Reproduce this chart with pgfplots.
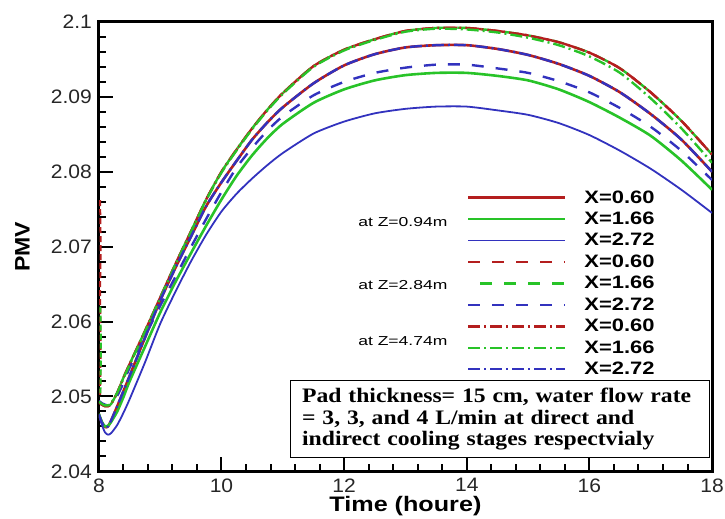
\documentclass[border=0pt]{standalone}
\usepackage{fontspec}
\setmainfont{Liberation Serif}
\setsansfont{Liberation Sans}
\newfontfamily\tickf{Liberation Sans}[FakeStretch=1.08]
\newfontfamily\legf{Liberation Sans}[FakeStretch=1.22]
\newfontfamily\zf{Liberation Sans}[FakeStretch=1.35]
\newfontfamily\labf{Liberation Sans}[FakeStretch=1.2]
\newfontfamily\ylabf{Liberation Sans}[FakeStretch=1.1]
\newfontfamily\boxf{Liberation Serif}[FakeStretch=1.15]
\usepackage{pgfplots}
\usepackage{pgfplotstable}
\pgfplotsset{compat=1.18}
\definecolor{cR}{RGB}{180,30,30}
\definecolor{cG}{RGB}{40,195,40}
\definecolor{cB}{RGB}{50,50,190}

\pgfplotstableread{
x T T2 S DB GS BS
8.00 2.0492 2.0493 2.0476 2.0494 2.0477 2.0476
8.05 2.0489 2.0490 2.0465 2.0491 2.0466 2.0462
8.10 2.0487 2.0488 2.0459 2.0489 2.0460 2.0452
8.15 2.0487 2.0488 2.0460 2.0488 2.0461 2.0449
8.20 2.0490 2.0491 2.0468 2.0490 2.0466 2.0451
8.30 2.0505 2.0505 2.0487 2.0501 2.0480 2.0462
8.40 2.0525 2.0524 2.0507 2.0518 2.0499 2.0478
8.50 2.0543 2.0542 2.0527 2.0538 2.0520 2.0496
8.75 2.0587 2.0586 2.0578 2.0580 2.0566 2.0545
9.00 2.0632 2.0631 2.0628 2.0621 2.0612 2.0597
9.25 2.0677 2.0676 2.0672 2.0660 2.0653 2.0640
9.50 2.0720 2.0719 2.0713 2.0699 2.0691 2.0680
9.75 2.0763 2.0762 2.0754 2.0737 2.0728 2.0716
10.00 2.0800 2.0799 2.0786 2.0773 2.0763 2.0747
10.25 2.0830 2.0829 2.0815 2.0806 2.0795 2.0771
10.50 2.0858 2.0857 2.0843 2.0832 2.0822 2.0791
10.75 2.0883 2.0882 2.0866 2.0855 2.0845 2.0809
11.00 2.0905 2.0904 2.0886 2.0874 2.0864 2.0825
11.50 2.0941 2.0940 2.0918 2.0902 2.0892 2.0851
12.00 2.0963 2.0962 2.0942 2.0920 2.0910 2.0867
12.50 2.0977 2.0976 2.0957 2.0932 2.0922 2.0878
13.00 2.0988 2.0987 2.0966 2.0939 2.0929 2.0884
13.50 2.0992 2.0991 2.0969 2.0943 2.0932 2.0887
14.00 2.0992 2.0990 2.0969 2.0943 2.0932 2.0887
14.50 2.0988 2.0986 2.0964 2.0938 2.0928 2.0882
15.00 2.0982 2.0979 2.0956 2.0932 2.0922 2.0876
15.50 2.0973 2.0969 2.0944 2.0921 2.0910 2.0865
16.00 2.0959 2.0954 2.0928 2.0906 2.0893 2.0849
16.50 2.0938 2.0932 2.0906 2.0885 2.0872 2.0828
17.00 2.0906 2.0898 2.0877 2.0860 2.0848 2.0804
17.50 2.0868 2.0858 2.0843 2.0828 2.0815 2.0776
18.00 2.0823 2.0812 2.0800 2.0789 2.0776 2.0745
}\data

\begin{document}
\begin{tikzpicture}
\useasboundingbox (-49.5pt,-23.5pt) rectangle (313.5pt,236pt);
\begin{axis}[
  at={(0,0)}, anchor=south west, scale only axis,
  width=307pt, height=225pt,
  xmin=8, xmax=18, ymin=2.04, ymax=2.1,
  xtick={8,10,12,14,16,18}, xticklabels={8,10,12,14,16,18},
  ytick={2.04,2.05,2.06,2.07,2.08,2.09,2.1},
  yticklabels={2.04,2.05,2.06,2.07,2.08,2.09,2.1},
  scaled ticks=false,
  minor x tick num=4, minor y tick num=4,
  tick align=inside, xtick pos=bottom, ytick pos=left,
  major tick length=7pt, minor tick length=3.5pt,
  every tick/.style={black, line width=1pt},
  axis line style={line width=1.5pt},
  tick label style={font=\tickf\fontsize{9.75}{10}\selectfont, text=black!85},
  xlabel={Time (houre)}, ylabel={PMV},
  every axis x label/.style={at={(rel axis cs:0.5,0)}, anchor=base, yshift=-20pt,
    font=\labf\bfseries\fontsize{10.5}{12}\selectfont},
  every axis y label/.style={at={(rel axis cs:0,0.5)}, xshift=-38.25pt, rotate=90, anchor=center,
    font=\ylabf\bfseries\fontsize{10.5}{12}\selectfont},
  legend cell align=left,
  legend style={at={(rel axis cs:0.59,0.638)}, anchor=north west, draw=none, fill=none,
    font=\legf\bfseries\fontsize{9}{9}\selectfont,
    nodes={inner sep=0pt},
    row sep=2.25pt,
    /tikz/every odd column/.append style={column sep=9pt},
    /tikz/every even column/.append style={text height=7pt, text depth=0pt}},
  legend image code/.code={\draw[#1] (0pt,0pt) -- (48.5pt,0pt);},
  every axis plot/.append style={line join=round},
]
\addplot[cR, line width=1.3pt, smooth, tension=0.4] table[x=x,y=S]{\data};
\addlegendentry{X=0.60}
\addplot[cG, line width=1.3pt, smooth, tension=0.4] table[x=x,y=GS]{\data};
\addlegendentry{X=1.66}
\addplot[cB, line width=0.9pt, smooth, tension=0.4] table[x=x,y=BS]{\data};
\addlegendentry{X=2.72}
\addplot[cR, line width=1.2pt, dash pattern=on 6pt off 6pt, smooth, tension=0.4] table[x=x,y=T]{\data};
\addlegendentry{X=0.60}
\addplot[cG, line width=1.2pt, dash pattern=on 6pt off 6pt, dash phase=6pt, smooth, tension=0.4] table[x=x,y=T]{\data};
\addlegendentry{X=1.66}
\addplot[cB, line width=1.2pt, dash pattern=on 6pt off 6pt, smooth, tension=0.4] table[x=x,y=DB]{\data};
\addlegendentry{X=2.72}
\addplot[cR, line width=1.2pt, dash pattern=on 6pt off 2pt on 1pt off 2pt, smooth, tension=0.4] table[x=x,y=T]{\data};
\addlegendentry{X=0.60}
\addplot[cG, line width=1.2pt, dash pattern=on 6pt off 2pt on 1pt off 2pt, smooth, tension=0.4] table[x=x,y=T2]{\data};
\addlegendentry{X=1.66}
\addplot[cB, line width=1.2pt, dash pattern=on 6pt off 2pt on 1pt off 2pt, smooth, tension=0.4] table[x=x,y=S]{\data};
\addlegendentry{X=2.72}
% initial transients at t = 8
\addplot[cR, line width=1pt, dash pattern=on 3pt off 1.5pt, forget plot] coordinates {(8.02,2.0762) (8.03,2.0700) (8.02,2.0640) (8.03,2.0560) (8.02,2.0500)};
\addplot[cG, line width=1pt, dash pattern=on 3pt off 1.5pt, forget plot] coordinates {(8.025,2.0620) (8.035,2.0560) (8.025,2.0500)};
\node[anchor=east, font=\zf\fontsize{6.5}{7}\selectfont] at (rel axis cs:0.58,0.5556) {at Z=0.94m};
\node[anchor=east, font=\zf\fontsize{6.5}{7}\selectfont] at (rel axis cs:0.58,0.4156) {at Z=2.84m};
\node[anchor=east, font=\zf\fontsize{6.5}{7}\selectfont] at (rel axis cs:0.58,0.2889) {at Z=4.74m};
\node[draw, line width=0.6pt, fill=white, anchor=south west, inner xsep=6pt, inner ysep=3pt,
  text width=198pt, minimum width=210pt, minimum height=38.5pt, align=left,
  font=\boxf\bfseries\fontsize{10.3}{10.8}\selectfont]
  at (rel axis cs:0.311,0.0289)
  {Pad thickness= 15 cm, water flow rate\\= 3, 3, and 4 L/min at direct and\\indirect cooling stages respectvialy};
\end{axis}
\end{tikzpicture}
\end{document}
